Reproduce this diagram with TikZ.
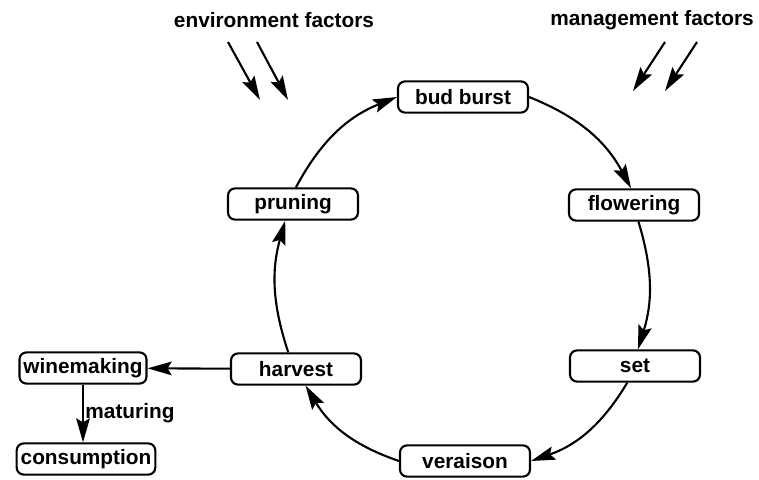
\documentclass[tikz,border=0pt]{standalone}
\usepackage{fontspec}
\setmainfont{Liberation Sans}
\usetikzlibrary{arrows.meta,positioning}
\tikzset{
  stage/.style={rectangle,rounded corners=5pt,draw,line width=1.5pt,
    minimum width=3.25cm,minimum height=0.78cm,inner xsep=0.1cm,
    align=center,font=\bfseries\fontsize{14.8}{17}\selectfont},
  phaseedge/.style={-{Stealth[length=6mm,width=3.4mm,inset=1mm]},
    line width=1.5pt}}

\begin{document}
\begin{tikzpicture}[
  factor/.style={font=\bfseries\fontsize{14.8}{17}\selectfont},
  edgelabel/.style={font=\bfseries\fontsize{14.8}{17}\selectfont,
    inner sep=1pt}]
  \useasboundingbox (0,0) rectangle (18.975,11.975);

  % factors acting on the cycle
  \node[factor] (env) at (6.85,11.475) {environment factors};
  \node[factor] (mgmt) at (16.3,11.475) {management factors};
  \coordinate (env1a) at (5.7,10.925);
  \coordinate (env1b) at (6.5,9.475);
  \coordinate (env2a) at (6.425,10.925);
  \coordinate (env2b) at (7.2,9.475);
  \coordinate (mgmt1a) at (16.625,10.925);
  \coordinate (mgmt1b) at (15.825,9.7);
  \coordinate (mgmt2a) at (17.425,10.925);
  \coordinate (mgmt2b) at (16.625,9.7);

  % the annual cycle
  \node[stage] (budburst) at (11.575,9.55) {bud burst};
  \node[stage] (flowering) at (15.85,6.85) {flowering};
  \node[stage] (set) at (15.875,2.825) {set};
  \node[stage] (veraison) at (11.625,0.45) {veraison};
  \node[stage] (harvest) at (7.4,2.75) {harvest};
  \node[stage] (pruning) at (7.325,6.875) {pruning};

  % after harvest
  \node[stage,minimum width=0pt] (winemaking) at (2.075,2.775) {winemaking};
  \node[stage,minimum width=0pt] (consumption) at (2.15,0.5) {consumption};

  \draw[phaseedge] (env1a) -- (env1b);
  \draw[phaseedge] (env2a) -- (env2b);
  \draw[phaseedge] (mgmt1a) -- (mgmt1b);
  \draw[phaseedge] (mgmt2a) -- (mgmt2b);

  \draw[phaseedge] (pruning.80) to[bend left=20] (budburst.west);
  \draw[phaseedge] (budburst.east) to[bend left=20] (flowering.100);
  \draw[phaseedge] (flowering.-75) to[bend left=17] (set.80);
  \draw[phaseedge] (set.-115) to[bend left=20] (veraison.east);
  \draw[phaseedge] (veraison.west) to[bend left=20] (harvest.-60);
  \draw[phaseedge] (harvest.115) to[bend left=17] (pruning.-115);

  \draw[phaseedge] (harvest) -- (winemaking);
  \draw[phaseedge] (winemaking.south) --
    node[edgelabel,right,pos=.5] {maturing} (winemaking.south |- consumption.north);
\end{tikzpicture}
\end{document}
